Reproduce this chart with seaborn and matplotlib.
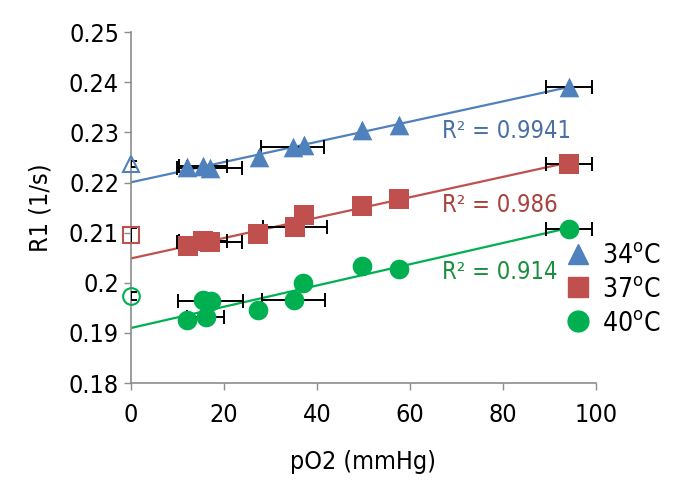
import matplotlib
matplotlib.use("Agg")
import matplotlib.pyplot as plt
import seaborn as sns
import numpy as np
import pandas as pd
from matplotlib.lines import Line2D
from matplotlib import font_manager

# 34 C (blue triangles)
x34 = [12.1, 15.5, 17.0, 27.5, 34.8, 37.2, 49.7, 57.6, 94.2]
y34 = [0.2232, 0.2233, 0.2229, 0.2251, 0.2271, 0.2275, 0.2305, 0.2315, 0.2391]
xe34 = [0, 5.2, 7.0, 0, 6.8, 0, 0, 0, 5.0]

# 37 C (red squares)
x37 = [12.3, 15.5, 17.0, 27.3, 35.3, 37.2, 49.7, 57.6, 94.2]
y37 = [0.2074, 0.2084, 0.2081, 0.2097, 0.2111, 0.2136, 0.2153, 0.2168, 0.2238]
xe37 = [0, 5.2, 7.0, 0, 6.8, 0, 0, 0, 5.0]

# 40 C (green circles)
x40 = [12.1, 15.5, 16.1, 17.2, 27.4, 35.0, 37.0, 49.7, 57.6, 94.2]
y40 = [0.1926, 0.1966, 0.1931, 0.1963, 0.1945, 0.1966, 0.1999, 0.2034, 0.2028, 0.2108]
xe40 = [0, 0, 4.0, 7.0, 0, 6.8, 0, 0, 0, 5.0]

# values measured at pO2 = 0 (open markers, not in the fit)
y0 = [0.2238, 0.2095, 0.1973]
ye0 = [0.0006, 0.0015, 0.0008]

r2_labels = ["R\u00b2 = 0.9941", "R\u00b2 = 0.986", "R\u00b2 = 0.914"]
temps = ["34$^\\mathregular{o}$C", "37$^\\mathregular{o}$C", "40$^\\mathregular{o}$C"]
colors = ["#4F81BD", "#C0504D", "#00B050"]
text_colors = ["#4A6FA3", "#A8423F", "#1B8F3F"]
markers = ["^", "s", "o"]

sns.set_theme(style="white")

#look for a narrow font, the original uses a condensed one
narrow = [f for f in font_manager.fontManager.ttflist
          if ("Narrow" in f.name or "Condensed" in f.name
              or str(f.stretch) in ("condensed", "semi-condensed", "500", "300"))
          and "Mono" not in f.name and "Serif" not in f.name]
fstretch = "normal"
fam = ['Liberation Sans', 'DejaVu Sans']
if narrow:
    fam = [narrow[0].name] + fam
    fstretch = narrow[0].stretch
plt.rcParams['font.family'] = fam
plt.rcParams['font.stretch'] = fstretch
plt.rcParams['mathtext.fontset'] = 'custom'
plt.rcParams['mathtext.rm'] = fam[0]
plt.rcParams['text.color'] = 'black'
plt.rcParams['axes.labelcolor'] = 'black'

fig = plt.figure(figsize=(6.78, 4.95), dpi=100)
ax = fig.add_axes([0.193, 0.226, 0.686, 0.709])

series = [(x34, y34, xe34), (x37, y37, xe37), (x40, y40, xe40)]
text_y = [0.2302, 0.2156, 0.2021]

for i, (xs, ys, xe) in enumerate(series):
    df = pd.DataFrame({"x": xs, "y": ys})
    # linear trendline from 0 to the last point
    k, b = np.polyfit(df["x"], df["y"], 1)
    line = pd.DataFrame({"x": [0, max(xs)]})
    line["y"] = k * line["x"] + b
    sns.lineplot(data=line, x="x", y="y", color=colors[i], lw=1.6, ax=ax, zorder=2)
    # horizontal error bars
    ax.errorbar(xs, ys, xerr=xe, fmt="none", ecolor="black", elinewidth=1.4,
                capsize=5, capthick=1.4, zorder=3)
    sns.scatterplot(data=df, x="x", y="y", marker=markers[i], color=colors[i],
                    s=200, edgecolor=colors[i], linewidth=0, ax=ax, zorder=4)
    # open marker at zero
    ax.errorbar([0], [y0[i]], yerr=[ye0[i]], fmt="none", ecolor="black",
                elinewidth=1.4, capsize=4, capthick=1.4, zorder=3)
    ax.plot([0], [y0[i]], marker=markers[i], ms=12, mfc="none",
            mec=colors[i], mew=1.5, ls="none", zorder=4, clip_on=False)
    ax.text(67.0, text_y[i], r2_labels[i], color=text_colors[i], fontsize=17,
            va="center", ha="left")

ax.set_xlim(0, 100)
ax.set_ylim(0.18, 0.25)
ax.set_xticks(np.arange(0, 101, 20))
ax.set_yticks([0.18, 0.19, 0.20, 0.21, 0.22, 0.23, 0.24, 0.25])
ax.set_yticklabels(["0.18", "0.19", "0.2", "0.21", "0.22", "0.23", "0.24", "0.25"])
ax.tick_params(axis="both", labelsize=18, colors="#8C8C8C", labelcolor="black",
               length=5, width=1, direction="out", left=True, bottom=True)
ax.tick_params(axis="x", pad=9)
for s in ["top", "right"]:
    ax.spines[s].set_visible(False)
for s in ["left", "bottom"]:
    ax.spines[s].set_color("#8C8C8C")
    ax.spines[s].set_linewidth(1.2)

ax.set_xlabel("pO2 (mmHg)", fontsize=18, labelpad=17, color="black")
ax.set_ylabel("R1 (1/s)", fontsize=18, labelpad=12, color="black")

handles = [Line2D([], [], marker=markers[i], color=colors[i], ls="none", ms=15)
           for i in range(3)]
leg = ax.legend(handles, temps, loc="upper left", bbox_to_anchor=(0.905, 0.43),
                frameon=False, fontsize=19, handletextpad=0.3, labelspacing=0.3,
                handlelength=1.2, borderaxespad=0)
for t in leg.get_texts():
    t.set_color("black")

fig.savefig("out.png", dpi=100)
